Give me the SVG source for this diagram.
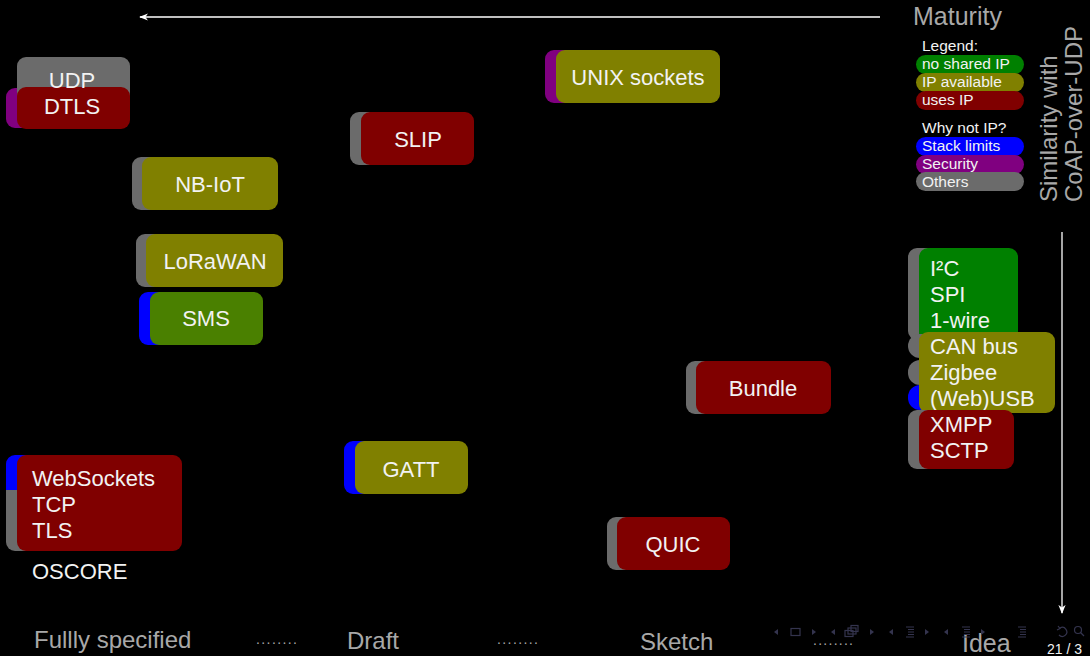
<svg xmlns="http://www.w3.org/2000/svg" width="1090" height="656" viewBox="0 0 1090 656">
<defs>
<style>
text{font-family:"Liberation Sans",Arial,sans-serif;}
.t{fill:#f2f2f2;font-size:22px;}
.c{text-anchor:middle;}
.ax{fill:#a8a8a8;font-size:22px;}
.lg{fill:#f2f2f2;font-size:15.5px;}
.g{fill:#008000}.o{fill:#808000}.r{fill:#800000}.b{fill:#0000ff}.p{fill:#800080}.k{fill:#6b6b6b}.sm{fill:#4a8000}
.nav{fill:#34344e;stroke:none}
.navs{fill:none;stroke:#34344e;stroke-width:1.2}
.dots{fill:#a8a8a8;font-size:14px;}
</style>
<marker id="ah" viewBox="0 0 10 10" refX="9" refY="5" markerWidth="9" markerHeight="9" markerUnits="userSpaceOnUse" orient="auto">
<path d="M0,1 L10,5 L0,9 L3,5 Z" fill="#ffffff"/>
</marker>
</defs>
<rect width="1090" height="656" fill="#000"/>

<g id="connectors">
<line x1="880" y1="17" x2="140" y2="17" stroke="#fff" stroke-width="1.3" marker-end="url(#ah)"/>
<line x1="1062" y1="232" x2="1062" y2="613" stroke="#fff" stroke-width="1.3" marker-end="url(#ah)"/>
</g>

<g id="axis-labels">
<text class="ax" x="913" y="25" style="font-size:25px">Maturity</text>
<text class="ax" transform="translate(1057,202) rotate(-90)" style="font-size:24px">Similarity with</text>
<text class="ax" transform="translate(1082,202) rotate(-90)" style="font-size:24px">CoAP-over-UDP</text>
<text class="ax" x="34" y="648" style="font-size:24px">Fullly specified</text>
<text class="dots" x="256" y="644" textLength="41">........</text>
<text class="ax" x="347" y="649" style="font-size:24px">Draft</text>
<text class="dots" x="497" y="644" textLength="41">........</text>
<text class="ax" x="640" y="650" style="font-size:24px">Sketch</text>
<text class="dots" x="813" y="645" textLength="40">........</text>
<text class="ax" x="962" y="652" style="font-size:25px">Idea</text>
</g>

<g id="legend">
<text class="lg" x="922" y="51">Legend:</text>
<rect class="g" x="916" y="55" width="108" height="19" rx="9.5"/>
<rect class="o" x="916" y="73" width="108" height="19" rx="9.5"/>
<rect class="r" x="916" y="91" width="108" height="19" rx="9.5"/>
<text class="lg" x="922" y="69">no shared IP</text>
<text class="lg" x="922" y="87">IP available</text>
<text class="lg" x="922" y="105">uses IP</text>
<text class="lg" x="922" y="133">Why not IP?</text>
<rect class="b" x="916" y="137" width="108" height="19" rx="9.5"/>
<rect class="p" x="916" y="155" width="108" height="19" rx="9.5"/>
<rect class="k" x="916" y="172" width="108" height="19" rx="9.5"/>
<text class="lg" x="922" y="151">Stack limits</text>
<text class="lg" x="922" y="169">Security</text>
<text class="lg" x="922" y="187">Others</text>
</g>

<g id="node-udp-dtls">
<rect class="p" x="6" y="88" width="60" height="40" rx="9"/>
<rect class="k" x="17" y="57" width="113" height="50" rx="9"/>
<rect class="r" x="17" y="87" width="113" height="42" rx="9"/>
<text class="t c" x="72" y="88">UDP</text>
<text class="t c" x="72" y="114">DTLS</text>
</g>

<g id="node-unix-sockets">
<rect class="p" x="545" y="50" width="60" height="53" rx="9"/>
<rect class="o" x="556" y="50" width="164" height="53" rx="9"/>
<text class="t c" x="638" y="85">UNIX sockets</text>
</g>

<g id="node-slip">
<rect class="k" x="350" y="112" width="60" height="53" rx="9"/>
<rect class="r" x="361" y="112" width="113" height="53" rx="9"/>
<text class="t c" x="418" y="147">SLIP</text>
</g>

<g id="node-nbiot">
<rect class="k" x="132" y="157" width="60" height="53" rx="9"/>
<rect class="o" x="142" y="157" width="136" height="53" rx="9"/>
<text class="t c" x="210" y="192">NB-IoT</text>
</g>

<g id="node-lorawan">
<rect class="k" x="136" y="234" width="60" height="53" rx="9"/>
<rect class="o" x="146" y="234" width="137" height="53" rx="9"/>
<text class="t c" x="215" y="269">LoRaWAN</text>
</g>

<g id="node-sms">
<rect class="b" x="139" y="292" width="60" height="53" rx="9"/>
<rect class="sm" x="150" y="292" width="113" height="53" rx="9"/>
<text class="t c" x="206" y="326">SMS</text>
</g>

<g id="node-bundle">
<rect class="k" x="686" y="361" width="60" height="53" rx="9"/>
<rect class="r" x="696" y="361" width="135" height="53" rx="9"/>
<text class="t c" x="763" y="396">Bundle</text>
</g>

<g id="node-gatt">
<rect class="b" x="344" y="441" width="60" height="53" rx="9"/>
<rect class="o" x="355" y="441" width="113" height="53" rx="9"/>
<text class="t c" x="411" y="477">GATT</text>
</g>

<g id="node-quic">
<rect class="k" x="607" y="517" width="60" height="53" rx="9"/>
<rect class="r" x="617" y="517" width="113" height="53" rx="9"/>
<text class="t c" x="673" y="552">QUIC</text>
</g>

<g id="node-websockets">
<rect class="k" x="6" y="470" width="60" height="81" rx="9"/>
<rect class="b" x="6" y="455" width="60" height="45" rx="9"/>
<rect class="k" x="6" y="490" width="60" height="30"/>
<rect class="r" x="17" y="455" width="165" height="96" rx="9"/>
<text class="t" x="32" y="486">WebSockets</text>
<text class="t" x="32" y="512">TCP</text>
<text class="t" x="32" y="538">TLS</text>
</g>

<g id="node-oscore">
<text class="t" x="32" y="579">OSCORE</text>
</g>

<g id="node-i2c-spi-1wire">
<rect class="k" x="908" y="248" width="60" height="92" rx="9"/>
<rect class="g" x="919" y="248" width="99" height="97" rx="9"/>
<text class="t" x="930" y="276">I²C</text>
<text class="t" x="930" y="302">SPI</text>
<text class="t" x="930" y="328">1-wire</text>
</g>

<g id="node-can-zigbee-usb">
<rect class="k" x="908" y="334" width="40" height="24" rx="12"/>
<rect class="k" x="908" y="360" width="40" height="25" rx="12"/>
<rect class="b" x="908" y="385" width="40" height="25" rx="12"/>
<rect class="o" x="919" y="332" width="136" height="81" rx="9"/>
<text class="t" x="930" y="354">CAN bus</text>
<text class="t" x="930" y="380">Zigbee</text>
<text class="t" x="930" y="406">(Web)USB</text>
</g>

<g id="node-xmpp-sctp">
<rect class="k" x="908" y="410" width="60" height="59" rx="9"/>
<rect class="r" x="919" y="410" width="95" height="59" rx="9"/>
<text class="t" x="930" y="432">XMPP</text>
<text class="t" x="930" y="458">SCTP</text>
</g>

<g id="navigation">
<path class="nav" d="M778,629 L774,632 L778,635 Z"/>
<rect class="navs" x="791" y="628.5" width="9" height="7"/>
<path class="nav" d="M812,629 L816,632 L812,635 Z"/>
<path class="nav" d="M835,629 L831,632 L835,635 Z"/>
<rect class="navs" x="845" y="630.5" width="8" height="6"/>
<rect class="navs" x="848" y="628" width="8" height="6"/>
<rect class="navs" x="851" y="625.5" width="7" height="6"/>
<path class="nav" d="M870,629 L874,632 L870,635 Z"/>
<path class="nav" d="M893,629 L889,632 L893,635 Z"/>
<path class="navs" d="M906,627H914M908,629.5H914M908,632H914M908,634.5H914M906,637H914"/>
<path class="nav" d="M925,629 L929,632 L925,635 Z"/>
<path class="nav" d="M948,629 L944,632 L948,635 Z"/>
<path class="navs" d="M962,627H970M964,629.5H970M964,632H970M964,634.5H970M962,637H970"/>
<path class="nav" d="M981,629 L985,632 L981,635 Z"/>
<path class="navs" d="M1018,627H1026M1020,629.5H1026M1020,632H1026M1020,634.5H1026M1018,637H1026"/>
<path class="navs" d="M1060,628 A4.5,4.5 0 1 1 1059,635 M1058,626 L1060,628.5 L1057,630"/>
<circle class="navs" cx="1078" cy="630" r="3.5"/>
<path class="navs" d="M1080.5,632.5 L1084,636"/>
<text x="1047" y="654" style="fill:#f2f2f2;font-size:14px">21 / 3</text>
</g>
</svg>
